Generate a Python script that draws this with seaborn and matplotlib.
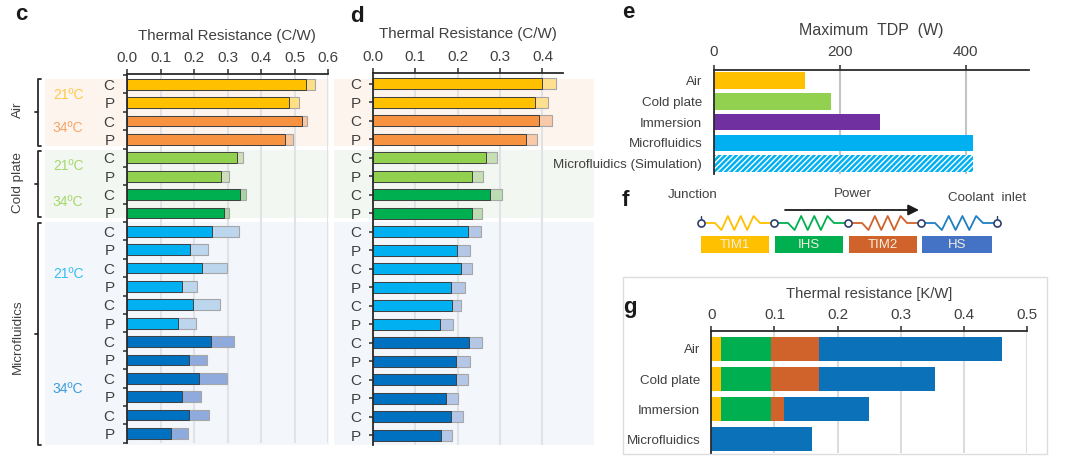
import numpy as np
import pandas as pd
import matplotlib
matplotlib.use("Agg")
import matplotlib.pyplot as plt
import seaborn as sns
from matplotlib.patches import Rectangle

# Panel c, resistance bars: the solid part and the total with the pale part
c_base = [0.534, 0.485, 0.521, 0.472, 0.328, 0.281, 0.337, 0.291, 0.254, 0.187,
          0.225, 0.165, 0.198, 0.153, 0.250, 0.184, 0.214, 0.163, 0.184, 0.131]
c_total = [0.561, 0.514, 0.538, 0.496, 0.345, 0.303, 0.355, 0.303, 0.333, 0.241,
           0.299, 0.210, 0.279, 0.207, 0.320, 0.239, 0.298, 0.222, 0.246, 0.183]

# Panel d
d_base = [0.399, 0.383, 0.392, 0.362, 0.266, 0.235, 0.277, 0.235, 0.225, 0.199,
          0.209, 0.184, 0.186, 0.158, 0.227, 0.196, 0.196, 0.173, 0.184, 0.160]
d_total = [0.431, 0.413, 0.422, 0.388, 0.293, 0.260, 0.305, 0.258, 0.256, 0.229,
           0.233, 0.217, 0.209, 0.188, 0.258, 0.229, 0.225, 0.202, 0.212, 0.187]

pkg_labels = ["C", "P"] * 10
group_sizes = [2, 2, 2, 2, 6, 6]

# Panel e
tdp_labels = ["Air", "Cold plate", "Immersion", "Microfluidics", "Microfluidics (Simulation)"]
tdp_values = [144, 186, 264, 412, 412]

# Panel g
stack_labels = ["Air", "Cold plate", "Immersion", "Microfluidics"]
tim1 = [0.015, 0.015, 0.015, 0.0]
ihs = [0.080, 0.080, 0.080, 0.0]
tim2 = [0.075, 0.075, 0.020, 0.0]
hs = [0.290, 0.185, 0.135, 0.160]

sns.set_theme(style="white")
plt.rcParams["font.family"] = ["Liberation Sans", "DejaVu Sans"]
plt.rcParams["hatch.linewidth"] = 1.0

W, H = 1080, 473
TXT = "#404040"
AXC = "#2b2b2b"
FS = 11

fig = plt.figure(figsize=(W / 100, H / 100), dpi=100)
fig.patch.set_facecolor("white")

# Overlay in pixel coordinates for bands, brackets, schematic and free text
bg = fig.add_axes([0, 0, 1, 1], zorder=-1)
bg.set_xlim(0, W)
bg.set_ylim(H, 0)
bg.axis("off")


def px_axes(left, right, top, bottom):
    ax = fig.add_axes([left / W, 1 - bottom / H, (right - left) / W, (bottom - top) / H])
    ax.patch.set_alpha(0)
    return ax


def style_axes(ax, grid_color, ticks):
    ax.xaxis.tick_top()
    ax.set_xlabel("")
    ax.set_ylabel("")
    ax.set_xticks(ticks)
    ax.set_axisbelow(True)
    ax.grid(axis="x", color=grid_color, lw=1.5)
    ax.grid(axis="y", visible=False)
    for side in ["right", "bottom"]:
        ax.spines[side].set_visible(False)
    for side in ["top", "left"]:
        ax.spines[side].set_visible(True)
        ax.spines[side].set_color(AXC)
        ax.spines[side].set_linewidth(1.3)
    ax.tick_params(axis="x", top=True, length=3.5, width=1.1, color=AXC,
                   labelsize=FS, labelcolor=TXT, pad=3)


def resistance_panel(ax, base, total, solid, pale, xmax, ticks, boundary_ticks):
    rows = [str(i) for i in range(len(base))]
    df = pd.DataFrame({"row": rows, "base": base, "total": total})
    sns.barplot(df, y="row", x="total", hue="row", order=rows, hue_order=rows, palette=pale,
                saturation=1, legend=False, width=0.58, edgecolor="#a6a6a6", linewidth=0.8, ax=ax)
    sns.barplot(df, y="row", x="base", hue="row", order=rows, hue_order=rows, palette=solid,
                saturation=1, legend=False, width=0.58, edgecolor="#404040", linewidth=0.7, ax=ax)
    style_axes(ax, "#e0e2e6", ticks)
    ax.set_xlim(0, xmax)
    ax.set_ylim(len(base) - 0.5 + 0.02, -0.56)
    ax.set_yticks(range(len(base)), pkg_labels)
    if boundary_ticks:
        ax.set_yticks(np.arange(len(base) + 1) - 0.5, minor=True)
        ax.tick_params(axis="y", which="major", left=False, labelsize=FS, labelcolor=TXT, pad=3)
        ax.tick_params(axis="y", which="minor", left=True, length=3, width=1.1, color=AXC)
    else:
        ax.tick_params(axis="y", left=True, length=3, width=1.1, color=AXC,
                       labelsize=FS, labelcolor=TXT, pad=5.5)


def colours(cols):
    return [c for c, n in zip(cols, group_sizes) for _ in range(n)]


solid = colours(["#ffc000", "#f79240", "#92d050", "#00b050", "#00b0f0", "#0070c0"])
pale_c = colours(["#ffdf85", "#f9c7a2", "#cfdfbb", "#a9d3a5", "#bcd6ee", "#8faadc"])
pale_d = colours(["#ffe08f", "#f9c9a8", "#c6e0b4", "#bcdcb4", "#b4c7e7", "#b4c7e7"])

# Background bands and brackets
for top, bottom, col in [(79, 146, "#fdf4ee"), (150, 218, "#f3f7f1"), (222, 445, "#f3f6fb")]:
    bg.add_patch(Rectangle((45, top), 284, bottom - top, fc=col, ec="none"))
    bg.add_patch(Rectangle((334, top), 260, bottom - top, fc=col, ec="none"))

for top, bottom in [(79, 146), (151, 217), (223, 445)]:
    mid = (top + bottom) / 2
    bg.plot([41, 38, 38, 41], [top, top, bottom, bottom], color=AXC, lw=1.3)
    bg.plot([35, 38], [mid, mid], color=AXC, lw=1.3)

for name, y in [("Air", 110), ("Cold plate", 183), ("Microfluidics", 337)]:
    bg.text(18, y, name, rotation=90, ha="center", va="center", fontsize=9.7, color=TXT)

for label, y, col in [("21ºC", 95, "#ffc84a"), ("34ºC", 128, "#f7a468"),
                      ("21ºC", 166, "#a5d86a"), ("34ºC", 202, "#a5d86a"),
                      ("21ºC", 274, "#38bdf2"), ("34ºC", 389, "#3c9ddc")]:
    bg.text(68, y, label, ha="center", va="center", fontsize=10, color=col)

# Panels c and d
ax_c = px_axes(127, 328, 74, 443)
resistance_panel(ax_c, c_base, c_total, solid, pale_c, 0.6, np.arange(0, 0.61, 0.1), True)
ax_c.set_xticklabels(["0.0", "0.1", "0.2", "0.3", "0.4", "0.5", "0.6"])

ax_d = px_axes(372.7, 563.3, 73.3, 445)
resistance_panel(ax_d, d_base, d_total, solid, pale_d, 0.449, np.arange(0, 0.41, 0.1), False)
ax_d.set_xticklabels(["0.0", "0.1", "0.2", "0.3", "0.4"])

bg.text(227, 36, "Thermal Resistance (C/W)", ha="center", va="center", fontsize=FS - 0.1, color=TXT)
bg.text(468, 34, "Thermal Resistance (C/W)", ha="center", va="center", fontsize=FS - 0.1, color=TXT)

# Panel e
ax_e = px_axes(714, 1028.6, 70.3, 173.8)
df_e = pd.DataFrame({"name": tdp_labels, "tdp": tdp_values})
sns.barplot(df_e, y="name", x="tdp", hue="name", order=tdp_labels, hue_order=tdp_labels,
            palette=["#ffc000", "#92d050", "#7030a0", "#00b0f0", "#00b0f0"],
            saturation=1, legend=False, width=0.79, linewidth=0, ax=ax_e)
bar_sim = [p for c in ax_e.containers for p in c][-1]
bar_sim.set_hatch("//////")
bar_sim.set_edgecolor("white")
style_axes(ax_e, "#c4c4c4", [0, 200, 400])
ax_e.set_xlim(0, 500)
ax_e.set_ylim(4.5, -0.5)
ax_e.tick_params(axis="x", pad=4.5)
ax_e.tick_params(axis="y", left=False, labelsize=9.6, labelcolor=TXT, pad=2.5)
bg.text(871, 30, "Maximum  TDP  (W)", ha="center", va="center", fontsize=11.5, color=TXT)

# Panel f schematic
nodes = [701, 774, 848, 921, 997]
res_cols = ["#ffc000", "#00b050", "#d0632b", "#1f7fc0"]
box_labels = ["TIM1", "IHS", "TIM2", "HS"]
box_edges = [(701, 769), (775, 843), (849, 917), (922, 992)]
box_cols = ["#ffc000", "#00b050", "#d0632b", "#4472c4"]
node_y = 223
for i in range(4):
    x0, x1 = nodes[i], nodes[i + 1]
    teeth = np.linspace(x0 + 14, x1 - 14, 8)
    zig_y = [node_y + (-7 if j % 2 == 0 else 7) for j in range(1, 7)]
    xs = [x0, x0 + 14] + list(teeth[1:7]) + [x1 - 14, x1]
    ys = [node_y, node_y] + zig_y + [node_y, node_y]
    bg.plot(xs, ys, color=res_cols[i], lw=1.3, zorder=2)
    left, right = box_edges[i]
    bg.add_patch(Rectangle((left, 236), right - left, 17, fc=box_cols[i], ec="none"))
    bg.text((left + right) / 2, 245, box_labels[i], ha="center", va="center",
            fontsize=9.5, color="#f4eee0")
bg.plot([nodes[0], nodes[0]], [216, 223], color="#2f3f6b", lw=1, zorder=2)
bg.plot([nodes[-1], nodes[-1]], [216, 223], color="#2f3f6b", lw=1, zorder=2)
bg.scatter(nodes, [node_y] * 5, s=26, facecolor="white", edgecolor="#2f3f6b", linewidth=1.2, zorder=3)
bg.annotate("", xy=(919, 210), xytext=(785, 210),
            arrowprops=dict(arrowstyle="-|>", color="#1a1a1a", lw=1.3, mutation_scale=16, shrinkA=0, shrinkB=0))
bg.text(693, 195, "Junction", ha="center", va="center", fontsize=9.6, color=TXT)
bg.text(853, 194, "Power", ha="center", va="center", fontsize=9.6, color=TXT)
bg.text(987, 198, "Coolant  inlet", ha="center", va="center", fontsize=9.6, color=TXT)

# Panel g, stacked by drawing the running totals from longest to shortest
bg.add_patch(Rectangle((623, 277), 424, 177, fc="white", ec="#dcdcdc", lw=1))
ax_g = px_axes(711.3, 1027, 331.3, 453)
df_g = pd.DataFrame({"name": stack_labels, "TIM1": tim1, "IHS": ihs, "TIM2": tim2, "HS": hs})
parts = ["TIM1", "IHS", "TIM2", "HS"]
part_cols = ["#ffc000", "#00b050", "#d0632b", "#0b72b9"]
running = df_g[parts].cumsum(axis=1)
running["name"] = stack_labels
for part, col in zip(parts[::-1], part_cols[::-1]):
    sns.barplot(running, y="name", x=part, order=stack_labels, color=col, width=0.8,
                linewidth=0, saturation=1, ax=ax_g)
style_axes(ax_g, "#dcdcdc", [0, 0.1, 0.2, 0.3, 0.4, 0.5])
ax_g.set_xticklabels(["0", "0.1", "0.2", "0.3", "0.4", "0.5"])
ax_g.set_xlim(0, 0.5)
ax_g.set_ylim(3.45, -0.58)
ax_g.tick_params(axis="y", left=False, labelsize=9.6, labelcolor=TXT, pad=2)
bg.text(869, 294, "Thermal resistance [K/W]", ha="center", va="center", fontsize=10.6, color=TXT)

# Panel letters
for letter, x, y in [("c", 21, 15), ("d", 357, 17), ("e", 628, 13), ("f", 625, 200), ("g", 630, 307)]:
    bg.text(x, y, letter, ha="center", va="center", fontsize=16, fontweight="bold", color="#1a1a1a")

fig.savefig("out.png", dpi=100)
